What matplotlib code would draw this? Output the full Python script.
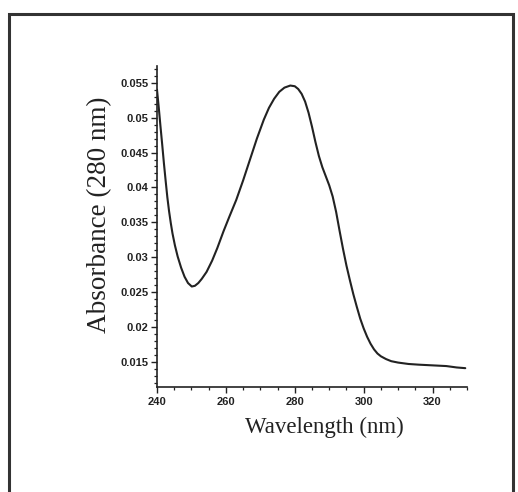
import matplotlib
matplotlib.use("Agg")
import matplotlib.pyplot as plt
from matplotlib.ticker import MultipleLocator
from matplotlib.patches import Rectangle

# Data
wavelength = [240.0, 240.5, 241.0, 241.5, 242.0, 242.5, 243.0, 243.5, 244.0, 244.5,
              245.2, 246.0, 247.0, 248.0, 249.0, 250.1, 251.0, 252.0, 253.0, 254.4,
              256.0, 257.5, 259.3, 261.0, 263.0, 265.0, 267.0, 269.0, 271.0, 272.5,
              274.0, 275.5, 277.0, 278.7, 280.0, 281.0, 282.0, 283.0, 284.0, 285.0,
              286.0, 287.0, 288.0, 289.0, 290.0, 291.0, 292.0, 293.0, 294.0, 295.0,
              296.0, 297.0, 298.0, 299.0, 300.0, 301.0, 302.0, 303.0, 304.0, 305.0,
              306.5, 308.0, 310.0, 313.0, 316.0, 320.0, 324.0, 327.0, 329.5]
absorbance = [0.0540, 0.0515, 0.0488, 0.0462, 0.0435, 0.0410, 0.0386, 0.0366, 0.0349, 0.0334,
              0.0317, 0.0301, 0.0285, 0.0272, 0.0263, 0.0258, 0.0259, 0.0263, 0.0269, 0.0279,
              0.0295, 0.0313, 0.0337, 0.0358, 0.0382, 0.0410, 0.0440, 0.0470, 0.0497, 0.0514,
              0.0527, 0.0537, 0.0543, 0.0546, 0.0545, 0.0541, 0.0534, 0.0523, 0.0507, 0.0487,
              0.0465, 0.0445, 0.0429, 0.0416, 0.0403, 0.0387, 0.0365, 0.0338, 0.0312, 0.0288,
              0.0267, 0.0247, 0.0229, 0.0212, 0.0198, 0.0186, 0.0176, 0.0168, 0.0162, 0.0158,
              0.0154, 0.0151, 0.0149, 0.0147, 0.0146, 0.0145, 0.0144, 0.0142, 0.0141]

x_ticks = [240, 260, 280, 300, 320]
x_ticklabels = ["240", "260", "280", "300", "320"]
y_ticks = [0.015, 0.02, 0.025, 0.03, 0.035, 0.04, 0.045, 0.05, 0.055]
y_ticklabels = ["0.015", "0.02", "0.025", "0.03", "0.035", "0.04", "0.045", "0.05", "0.055"]

W, H = 518, 492
fig = plt.figure(figsize=(W / 100, H / 100), dpi=100)
fig.patch.set_facecolor("white")

# outer frame of the scanned figure
fig.patches.append(Rectangle((9 / W, -0.05), (513 - 9) / W, 1.05 - 14 / H,
                             transform=fig.transFigure, fill=False,
                             edgecolor="#333333", linewidth=2.2, zorder=0))

left, right, top, bottom = 157, 467, 66, 387
ax = fig.add_axes([left / W, 1 - bottom / H, (right - left) / W, (bottom - top) / H])

ax.plot(wavelength, absorbance, color="#222222", linewidth=1.5,
        solid_capstyle="round", solid_joinstyle="round")

ax.set_xlim(240, 330)
ax.set_ylim(0.0114, 0.0574)

for s in ["top", "right"]:
    ax.spines[s].set_visible(False)
for s in ["left", "bottom"]:
    ax.spines[s].set_linewidth(1.2)
    ax.spines[s].set_color("#222222")

ax.set_xticks(x_ticks)
ax.set_xticklabels(x_ticklabels)
ax.set_yticks(y_ticks)
ax.set_yticklabels(y_ticklabels)
ax.xaxis.set_minor_locator(MultipleLocator(5))
ax.yaxis.set_minor_locator(MultipleLocator(0.001))

ax.tick_params(axis="both", which="major", direction="out", length=4, width=1.0,
               color="#222222", labelsize=8, pad=2)
ax.tick_params(axis="both", which="minor", direction="out", length=2.5, width=0.9,
               color="#222222")
ax.tick_params(axis="x", which="major", pad=3)
for lab in ax.get_xticklabels() + ax.get_yticklabels():
    lab.set_fontfamily("Liberation Sans")
    lab.set_fontweight("bold")
    lab.set_color("#222222")

fig.text(324 / W, 1 - 427 / H, "Wavelength (nm)", family="Liberation Serif",
         fontsize=16.5, color="#222222", ha="center", va="center")
fig.text(100 / W, 1 - 215 / H, "Absorbance (280 nm)", family="Liberation Serif",
         fontsize=19.5, color="#222222", ha="center", va="center", rotation=90)

fig.savefig("out.png", dpi=100, facecolor="white")
